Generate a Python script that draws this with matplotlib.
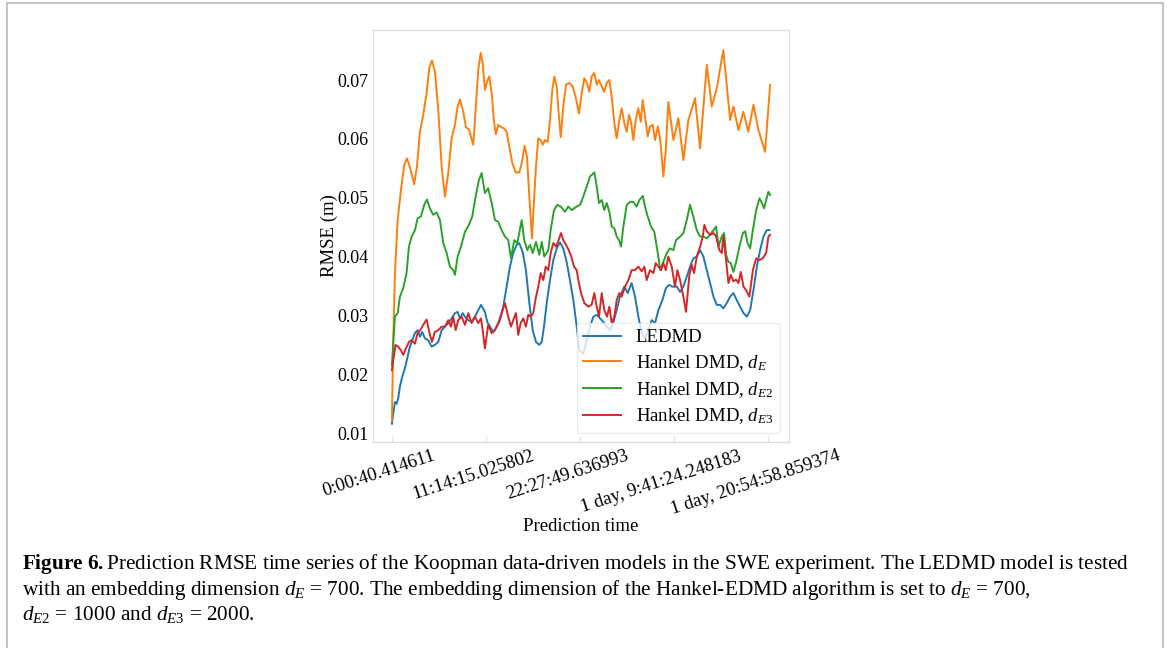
import datetime

import numpy as np
import matplotlib
matplotlib.use("Agg")
import matplotlib.pyplot as plt
from matplotlib.lines import Line2D
from matplotlib.ticker import FixedLocator, FuncFormatter
from matplotlib.transforms import ScaledTranslation

plt.rcParams.update({
    "font.family": "serif",
    "font.serif": ["Liberation Serif", "DejaVu Serif"],
    "mathtext.fontset": "custom",
    "mathtext.rm": "Liberation Serif",
    "mathtext.it": "Liberation Serif:italic",
    "mathtext.bf": "Liberation Serif:bold",
    "font.size": 13.5,
})

# one prediction step in seconds
DT = 40.4146111907

# --- RMSE series (prediction step index, RMSE in m) -------------------------
ledmd_step = [1, 15, 33, 51, 68, 86, 111, 139, 168, 192, 217, 246, 274, 299, 323,
              352, 387, 423, 458, 494, 530, 565, 600, 636, 671, 700, 724, 753, 778,
              813, 849, 884, 919, 948, 990, 1015, 1044, 1079, 1115, 1150, 1185, 1221,
              1256, 1291, 1327, 1355, 1391, 1426, 1462, 1498, 1533, 1568, 1594, 1618,
              1647, 1682, 1717, 1753, 1788, 1823, 1859, 1894, 1930, 1966, 1993, 2036,
              2072, 2107, 2143, 2179, 2214, 2249, 2285, 2320, 2356, 2391, 2426, 2472,
              2508, 2550, 2586, 2621, 2657, 2692, 2727, 2763, 2799, 2834, 2877, 2913,
              2948, 2983, 3030, 3065, 3100, 3136, 3171, 3206, 3242, 3278, 3313, 3349,
              3384, 3420, 3455, 3490, 3525, 3561, 3597, 3632, 3668, 3703, 3739, 3774,
              3810, 3845, 3881, 3916, 3951, 3987, 4015]
ledmd_rmse = [0.0116, 0.0133, 0.0153, 0.0150, 0.0159, 0.0179, 0.0196, 0.0210, 0.0230,
              0.0247, 0.0258, 0.0270, 0.0275, 0.0264, 0.0272, 0.0261, 0.0258, 0.0247,
              0.0250, 0.0255, 0.0275, 0.0281, 0.0287, 0.0295, 0.0304, 0.0306, 0.0295,
              0.0304, 0.0298, 0.0292, 0.0289, 0.0298, 0.0309, 0.0318, 0.0306, 0.0289,
              0.0281, 0.0272, 0.0281, 0.0292, 0.0315, 0.0349, 0.0383, 0.0406, 0.0420,
              0.0423, 0.0408, 0.0377, 0.0321, 0.0275, 0.0255, 0.0250, 0.0255, 0.0281,
              0.0321, 0.0360, 0.0394, 0.0414, 0.0424, 0.0414, 0.0391, 0.0360, 0.0326,
              0.0281, 0.0241, 0.0235, 0.0258, 0.0281, 0.0298, 0.0301, 0.0295, 0.0289,
              0.0281, 0.0275, 0.0289, 0.0309, 0.0332, 0.0349, 0.0338, 0.0355, 0.0332,
              0.0298, 0.0270, 0.0261, 0.0275, 0.0292, 0.0287, 0.0309, 0.0326, 0.0346,
              0.0352, 0.0349, 0.0349, 0.0340, 0.0349, 0.0366, 0.0383, 0.0397, 0.0400,
              0.0411, 0.0400, 0.0377, 0.0355, 0.0332, 0.0318, 0.0318, 0.0312, 0.0321,
              0.0332, 0.0338, 0.0326, 0.0315, 0.0304, 0.0298, 0.0309, 0.0343, 0.0383,
              0.0411, 0.0434, 0.0445, 0.0445]

hankel_e_step = [1, 15, 33, 62, 97, 132, 161, 196, 238, 267, 299, 334, 370, 398, 427,
                 458, 494, 530, 565, 600, 636, 671, 700, 724, 760, 788, 820, 841, 866,
                 891, 919, 945, 966, 990, 1015, 1036, 1062, 1086, 1107, 1132, 1161,
                 1192, 1221, 1249, 1281, 1317, 1355, 1384, 1413, 1437, 1462, 1490, 1512,
                 1533, 1557, 1583, 1604, 1629, 1657, 1682, 1706, 1728, 1753, 1774, 1796,
                 1823, 1852, 1887, 1923, 1958, 1990, 2019, 2047, 2075, 2100, 2125, 2153,
                 2179, 2203, 2232, 2259, 2285, 2313, 2338, 2366, 2391, 2416, 2444, 2472,
                 2498, 2522, 2543, 2568, 2596, 2621, 2647, 2668, 2692, 2721, 2746, 2774,
                 2799, 2828, 2855, 2887, 2913, 2940, 2994, 3047, 3100, 3153, 3224, 3278,
                 3349, 3402, 3455, 3525, 3597, 3632, 3685, 3738, 3791, 3845, 3898, 3969,
                 4022]
hankel_e_rmse = [0.0122, 0.0258, 0.0372, 0.0462, 0.0513, 0.0556, 0.0567, 0.0550,
                 0.0523, 0.0553, 0.0612, 0.0641, 0.0678, 0.0720, 0.0733, 0.0715,
                 0.0649, 0.0553, 0.0502, 0.0542, 0.0601, 0.0624, 0.0655, 0.0667,
                 0.0646, 0.0620, 0.0616, 0.0604, 0.0590, 0.0649, 0.0717, 0.0746,
                 0.0729, 0.0683, 0.0698, 0.0706, 0.0678, 0.0629, 0.0608, 0.0624,
                 0.0620, 0.0618, 0.0612, 0.0587, 0.0559, 0.0543, 0.0543, 0.0561,
                 0.0588, 0.0570, 0.0502, 0.0431, 0.0496, 0.0553, 0.0601, 0.0598,
                 0.0590, 0.0598, 0.0595, 0.0632, 0.0683, 0.0706, 0.0689, 0.0644,
                 0.0603, 0.0655, 0.0692, 0.0695, 0.0689, 0.0669, 0.0643, 0.0678,
                 0.0703, 0.0695, 0.0680, 0.0706, 0.0712, 0.0692, 0.0700, 0.0689,
                 0.0680, 0.0695, 0.0700, 0.0672, 0.0627, 0.0601, 0.0629, 0.0652,
                 0.0627, 0.0612, 0.0641, 0.0629, 0.0598, 0.0635, 0.0652, 0.0629,
                 0.0666, 0.0638, 0.0604, 0.0621, 0.0624, 0.0598, 0.0621, 0.0598,
                 0.0536, 0.0581, 0.0663, 0.0598, 0.0635, 0.0564, 0.0632, 0.0669,
                 0.0584, 0.0726, 0.0655, 0.0686, 0.0751, 0.0632, 0.0655, 0.0615,
                 0.0646, 0.0612, 0.0658, 0.0615, 0.0578, 0.0692]

hankel_e2_step = [1, 33, 62, 86, 121, 157, 182, 211, 246, 274, 309, 345, 373, 405, 440,
                  476, 512, 547, 583, 618, 653, 671, 700, 735, 778, 820, 855, 891, 926,
                  955, 990, 1025, 1062, 1097, 1132, 1168, 1203, 1238, 1267, 1302, 1334,
                  1381, 1408, 1440, 1469, 1498, 1533, 1568, 1594, 1621, 1664, 1689, 1724,
                  1759, 1796, 1841, 1876, 1913, 1966, 2001, 2036, 2072, 2107, 2153, 2179,
                  2203, 2232, 2259, 2285, 2313, 2338, 2366, 2391, 2416, 2437, 2462, 2498,
                  2533, 2568, 2604, 2632, 2668, 2692, 2721, 2756, 2791, 2828, 2855, 2887,
                  2923, 2958, 2994, 3022, 3065, 3100, 3136, 3171, 3206, 3242, 3278, 3313,
                  3349, 3384, 3420, 3448, 3473, 3508, 3533, 3554, 3579, 3604, 3632, 3661,
                  3696, 3733, 3757, 3782, 3810, 3839, 3874, 3909, 3935, 3958, 3980, 4004,
                  4022]
hankel_e2_rmse = [0.0216, 0.0298, 0.0304, 0.0332, 0.0346, 0.0372, 0.0417, 0.0434,
                  0.0445, 0.0465, 0.0468, 0.0488, 0.0497, 0.0482, 0.0471, 0.0475,
                  0.0462, 0.0423, 0.0406, 0.0383, 0.0377, 0.0369, 0.0400, 0.0417,
                  0.0442, 0.0454, 0.0468, 0.0502, 0.0530, 0.0542, 0.0508, 0.0516,
                  0.0491, 0.0462, 0.0459, 0.0445, 0.0434, 0.0428, 0.0397, 0.0428,
                  0.0423, 0.0462, 0.0428, 0.0411, 0.0420, 0.0406, 0.0425, 0.0403,
                  0.0425, 0.0400, 0.0411, 0.0445, 0.0479, 0.0488, 0.0485, 0.0476,
                  0.0485, 0.0479, 0.0485, 0.0488, 0.0502, 0.0519, 0.0536, 0.0543,
                  0.0519, 0.0491, 0.0496, 0.0479, 0.0491, 0.0476, 0.0451, 0.0448,
                  0.0434, 0.0428, 0.0417, 0.0451, 0.0488, 0.0493, 0.0493, 0.0485,
                  0.0496, 0.0503, 0.0485, 0.0468, 0.0451, 0.0442, 0.0406, 0.0377,
                  0.0391, 0.0406, 0.0414, 0.0411, 0.0428, 0.0434, 0.0440, 0.0462,
                  0.0488, 0.0468, 0.0445, 0.0434, 0.0434, 0.0431, 0.0437, 0.0445,
                  0.0451, 0.0417, 0.0434, 0.0440, 0.0403, 0.0391, 0.0389, 0.0374,
                  0.0391, 0.0417, 0.0440, 0.0443, 0.0423, 0.0414, 0.0445, 0.0479,
                  0.0499, 0.0491, 0.0482, 0.0496, 0.0510, 0.0505]

hankel_e3_step = [1, 15, 40, 68, 97, 121, 150, 182, 211, 246, 274, 302, 334, 370, 398,
                  427, 458, 494, 530, 565, 600, 629, 653, 679, 706, 742, 778, 813, 849,
                  884, 919, 948, 966, 990, 1025, 1062, 1097, 1132, 1168, 1203, 1238,
                  1267, 1291, 1320, 1344, 1370, 1398, 1426, 1451, 1476, 1504, 1530, 1557,
                  1583, 1611, 1636, 1664, 1689, 1717, 1746, 1774, 1799, 1823, 1852, 1881,
                  1908, 1937, 1966, 1983, 2012, 2047, 2089, 2125, 2153, 2179, 2203, 2232,
                  2259, 2288, 2313, 2338, 2366, 2391, 2419, 2444, 2480, 2515, 2550, 2586,
                  2621, 2657, 2685, 2710, 2745, 2781, 2806, 2834, 2863, 2887, 2913, 2940,
                  2976, 3011, 3036, 3065, 3100, 3128, 3164, 3189, 3214, 3242, 3278, 3306,
                  3323, 3349, 3384, 3420, 3448, 3483, 3508, 3525, 3554, 3579, 3604, 3632,
                  3661, 3685, 3711, 3739, 3767, 3802, 3839, 3874, 3909, 3944, 3980, 4004,
                  4022]
hankel_e3_rmse = [0.0207, 0.0224, 0.0250, 0.0247, 0.0241, 0.0233, 0.0244, 0.0255,
                  0.0258, 0.0252, 0.0270, 0.0275, 0.0284, 0.0293, 0.0272, 0.0255,
                  0.0272, 0.0275, 0.0281, 0.0281, 0.0292, 0.0281, 0.0298, 0.0275,
                  0.0292, 0.0298, 0.0284, 0.0304, 0.0287, 0.0298, 0.0287, 0.0295,
                  0.0275, 0.0244, 0.0284, 0.0270, 0.0275, 0.0287, 0.0304, 0.0321,
                  0.0298, 0.0281, 0.0292, 0.0304, 0.0267, 0.0287, 0.0295, 0.0281,
                  0.0301, 0.0298, 0.0304, 0.0329, 0.0349, 0.0372, 0.0360, 0.0383,
                  0.0377, 0.0406, 0.0423, 0.0417, 0.0428, 0.0440, 0.0428, 0.0420,
                  0.0411, 0.0400, 0.0383, 0.0377, 0.0360, 0.0338, 0.0321, 0.0315,
                  0.0318, 0.0338, 0.0315, 0.0298, 0.0338, 0.0309, 0.0298, 0.0315,
                  0.0287, 0.0298, 0.0326, 0.0338, 0.0332, 0.0349, 0.0360, 0.0377,
                  0.0377, 0.0383, 0.0375, 0.0383, 0.0360, 0.0377, 0.0372, 0.0389,
                  0.0383, 0.0377, 0.0389, 0.0377, 0.0400, 0.0383, 0.0349, 0.0377,
                  0.0360, 0.0332, 0.0306, 0.0369, 0.0386, 0.0372, 0.0400, 0.0417,
                  0.0434, 0.0454, 0.0443, 0.0437, 0.0440, 0.0434, 0.0411, 0.0406,
                  0.0434, 0.0394, 0.0355, 0.0369, 0.0358, 0.0361, 0.0355, 0.0374,
                  0.0349, 0.0343, 0.0332, 0.0377, 0.0397, 0.0394, 0.0397, 0.0406,
                  0.0434, 0.0437]

SERIES = [
    ("LEDMD", ledmd_step, ledmd_rmse),
    (r"Hankel DMD, $d_E$", hankel_e_step, hankel_e_rmse),
    (r"Hankel DMD, $d_{E2}$", hankel_e2_step, hankel_e2_rmse),
    (r"Hankel DMD, $d_{E3}$", hankel_e3_step, hankel_e3_rmse),
]
COLORS = ["#1f77b4", "#ff7f0e", "#2ca02c", "#d62728"]

TICK_STEPS = [1, 1001, 2001, 3001, 4001]
Y_TICKS = [0.01, 0.02, 0.03, 0.04, 0.05, 0.06, 0.07]

CAPTION = [
    r"$\mathbf{Figure\ 6.}$Prediction RMSE time series of the Koopman data-driven "
    r"models in the SWE experiment. The LEDMD model is tested",
    r"with an embedding dimension $d_E$ = 700. The embedding dimension of the "
    r"Hankel-EDMD algorithm is set to $d_E$ = 700,",
    r"$d_{E2}$ = 1000 and $d_{E3}$ = 2000.",
]

W, H = 1168, 648
fig = plt.figure(figsize=(W / 100, H / 100), dpi=100, facecolor="white")
ax = fig.add_axes([373 / W, 1 - 442 / H, 416 / W, 412 / H])

for (label, steps, rmse), color in zip(SERIES, COLORS):
    ax.plot(np.array(steps) * DT, rmse, color=color, lw=1.4, label=label)

ax.set_ylim(0.0085, 0.0785)
ax.set_yticks(Y_TICKS)
ax.yaxis.set_major_formatter(FuncFormatter(lambda v, pos: f"{v:.2f}"))
ax.xaxis.set_major_locator(FixedLocator([s * DT for s in TICK_STEPS]))
ax.xaxis.set_major_formatter(
    FuncFormatter(lambda v, pos: str(datetime.timedelta(seconds=v))))

for side in ax.spines.values():
    side.set_color("#dedede")
    side.set_linewidth(1.0)
ax.tick_params(axis="y", length=0, pad=3, labelsize=13)
ax.tick_params(axis="x", direction="in", length=4, color="#e2e2e2",
               pad=4, labelsize=13.5)

shift = ScaledTranslation(-0.13, 0, fig.dpi_scale_trans)
for lbl in ax.get_xticklabels():
    lbl.set_rotation(18)
    lbl.set_ha("center")
    lbl.set_transform(lbl.get_transform() + shift)

ax.set_ylabel("RMSE (m)", fontsize=13.5)
ax.yaxis.set_label_coords(-0.083, 0.5)
ax.set_xlabel("Prediction time", fontsize=13.5, labelpad=0)

ax.legend(loc="lower right", fontsize=13.5, edgecolor="#e6e6e6",
          framealpha=0.8, borderaxespad=0.5, labelspacing=0.36,
          borderpad=0.35, handlelength=2.0)

for i, line in enumerate(CAPTION):
    fig.text(22 / W, 1 - (569 + 25.7 * i) / H, line, fontsize=15.3,
             ha="left", va="baseline")

# light page frame (open at the bottom)
fig.add_artist(Line2D([7 / W, 7 / W, 1163 / W, 1163 / W],
                      [0, 1 - 3 / H, 1 - 3 / H, 0],
                      transform=fig.transFigure, color="#c4c4c4", lw=1.5))

fig.savefig("out.png", dpi=100)
